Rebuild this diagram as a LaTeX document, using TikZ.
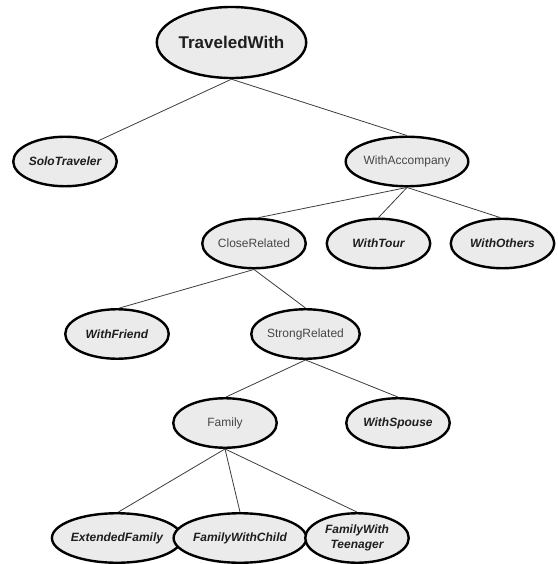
\documentclass[tikz,border=0pt]{standalone}
\usepackage{fontspec}
\setmainfont{Liberation Sans}
\usetikzlibrary{shapes.geometric}
\definecolor{nodefill}{RGB}{235,235,235}
\definecolor{linkgray}{RGB}{60,60,60}
\definecolor{plaintext}{RGB}{70,70,70}
\definecolor{boldtext}{RGB}{30,30,30}
\begin{document}
\begin{tikzpicture}[x=1pt,y=-1pt,
  concept/.style={ellipse, draw=black, line width=2.4pt, fill=nodefill,
    minimum width=103.5pt, minimum height=49.5pt, inner sep=0pt,
    align=center, font=\fontsize{12}{14.5}\selectfont},
  leaf/.style={concept, font=\fontsize{12}{14.5}\selectfont\bfseries\itshape, text=boldtext},
  inner/.style={concept, text=plaintext},
  root/.style={concept, minimum width=147pt, minimum height=71pt,
    font=\fontsize{17}{20}\selectfont\bfseries, text=boldtext},
  link/.style={draw=linkgray, line width=0.8pt}]
\useasboundingbox (0,0) rectangle (557,564);

% nodes
\node[root]  (tw)   at (231.5,42.5) {TraveledWith};
\node[leaf]  (solo) at (65,161.5)   {SoloTraveler};
\node[inner] (wa)   at (407,161.5)  {WithAccompany};
\node[inner] (cr)   at (254,243.5)  {CloseRelated};
\node[leaf]  (wt)   at (378.5,243.5){WithTour};
\node[leaf]  (wo)   at (502.5,243.5){WithOthers};
\node[leaf]  (wf)   at (117,334)    {WithFriend};
\node[inner] (sr)   at (305.5,334)  {StrongRelated};
\node[inner] (fam)  at (225,423)    {Family};
\node[leaf]  (ws)   at (398,423)    {WithSpouse};
\node[leaf]  (ef)   at (117,538)    {ExtendedFamily};
\node[leaf]  (fwc)  at (240,538)    {FamilyWithChild};
\node[leaf]  (fwt)  at (357,538)    {FamilyWith\\Teenager};

% connectors
\draw[link] (tw.south) -- (solo.32);
\draw[link] (tw.south) -- (wa.north);
\draw[link] (wa.south) -- (cr.80);
\draw[link] (wa.south) -- (wt.north);
\draw[link] (wa.south) -- (wo.95);
\draw[link] (cr.south) -- (wf.85);
\draw[link] (cr.south) -- (sr.north);
\draw[link] (sr.south) -- (fam.88);
\draw[link] (sr.south) -- (ws.north);
\draw[link] (fam.south) -- (ef.87);
\draw[link] (fam.south) -- (fwc.north);
\draw[link] (fam.south) -- (fwt.north);
\end{tikzpicture}
\end{document}
